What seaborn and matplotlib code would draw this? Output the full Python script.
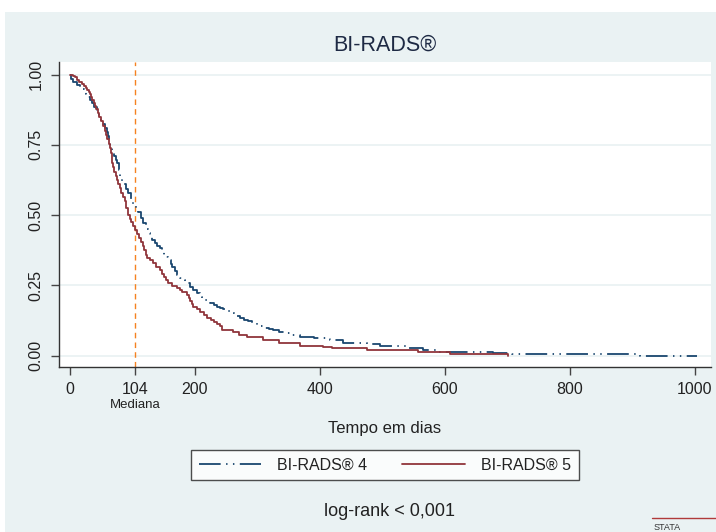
import numpy as np
import pandas as pd
import matplotlib
matplotlib.use("Agg")
import matplotlib.pyplot as plt
from matplotlib.patches import Rectangle
import seaborn as sns

# Kaplan-Meier step points (time in days, survival)
T_B4 = [0, 2, 5, 11, 16, 19, 22, 25, 28, 32, 35, 39, 43, 46, 50, 53, 56, 59, 61,
        63, 64, 67, 70, 73, 75, 78, 80, 83, 86, 90, 93, 97, 101, 105, 109, 113,
        117, 122, 125, 128, 132, 136, 140, 144, 147, 150, 154, 157, 161, 164, 168,
        171, 176, 180, 184, 187, 192, 197, 203, 208, 212, 216, 220, 224, 230, 235,
        240, 245, 250, 256, 262, 267, 272, 279, 285, 292, 299, 305, 312, 318, 325,
        335, 345, 356, 368, 390, 416, 437, 475, 496, 539, 565, 587, 613, 677, 707,
        912, 1003]
S_B4 = [1.00, 0.985, 0.975, 0.963, 0.957, 0.948, 0.94, 0.93, 0.92, 0.91, 0.90,
        0.885, 0.87, 0.855, 0.84, 0.825, 0.81, 0.795, 0.78, 0.76, 0.74, 0.725,
        0.71, 0.697, 0.685, 0.66, 0.637, 0.623, 0.61, 0.594, 0.578, 0.557, 0.536,
        0.524, 0.512, 0.49, 0.471, 0.45, 0.437, 0.423, 0.412, 0.40, 0.391, 0.382,
        0.371, 0.36, 0.35, 0.341, 0.328, 0.315, 0.30, 0.287, 0.278, 0.27, 0.264,
        0.258, 0.246, 0.235, 0.222, 0.21, 0.204, 0.198, 0.192, 0.186, 0.18, 0.175,
        0.17, 0.165, 0.158, 0.151, 0.146, 0.142, 0.133, 0.128, 0.122, 0.115,
        0.109, 0.105, 0.10, 0.095, 0.091, 0.086, 0.08, 0.074, 0.068, 0.062, 0.056,
        0.046, 0.042, 0.035, 0.026, 0.020, 0.014, 0.012, 0.0085, 0.005, 0.0, 0.0]

T_B5 = [0, 5, 8, 12, 15, 19, 22, 25, 28, 30, 32, 34, 36, 38, 40, 42, 45, 47, 50,
        53, 56, 58, 60, 62, 64, 65, 67, 68, 69, 71, 73, 75, 77, 80, 82, 85, 88, 90,
        93, 96, 98, 101, 104, 107, 110, 114, 117, 119, 121, 123, 128, 133, 138,
        144, 147, 150, 154, 157, 163, 171, 176, 180, 187, 190, 192, 195, 197, 203,
        208, 214, 219, 225, 230, 236, 240, 243, 261, 270, 283, 309, 334, 368, 405,
        419, 475, 557, 608, 701]
S_B5 = [1.00, 0.995, 0.99, 0.982, 0.975, 0.968, 0.96, 0.952, 0.945, 0.937, 0.93,
        0.92, 0.91, 0.90, 0.89, 0.878, 0.865, 0.85, 0.835, 0.818, 0.80, 0.785,
        0.77, 0.755, 0.74, 0.72, 0.70, 0.685, 0.67, 0.655, 0.64, 0.625, 0.61,
        0.595, 0.58, 0.565, 0.55, 0.525, 0.50, 0.487, 0.475, 0.46, 0.447, 0.433,
        0.42, 0.405, 0.39, 0.375, 0.36, 0.347, 0.34, 0.33, 0.315, 0.305, 0.292,
        0.28, 0.268, 0.258, 0.248, 0.24, 0.234, 0.228, 0.216, 0.205, 0.195, 0.184,
        0.174, 0.165, 0.157, 0.145, 0.133, 0.126, 0.12, 0.112, 0.105, 0.092,
        0.085, 0.075, 0.065, 0.056, 0.045, 0.035, 0.030, 0.026, 0.020, 0.012,
        0.006, 0.0]

GROUPS = ["BI-RADS® 4", "BI-RADS® 5"]
COLORS = {"BI-RADS® 4": "#1a476f", "BI-RADS® 5": "#90353b"}
MEDIAN = 104
X_TICKS = [0, 104, 200, 400, 600, 800, 1000]
Y_TICKS = [0.0, 0.25, 0.5, 0.75, 1.0]

df = pd.concat([
    pd.DataFrame({"t": T_B4, "s": S_B4, "grupo": GROUPS[0]}),
    pd.DataFrame({"t": T_B5, "s": S_B5, "grupo": GROUPS[1]}),
], ignore_index=True)

sns.set_style("white")
plt.rcParams["font.family"] = ["Liberation Sans", "DejaVu Sans"]

BG = "#eaf2f3"
W, H = 716, 532
fig = plt.figure(figsize=(W / 100, H / 100), dpi=100, facecolor="white")
fig.patches.append(Rectangle((5 / W, 0), 1 - 5 / W, 1 - 12 / H,
                             transform=fig.transFigure, facecolor=BG,
                             edgecolor="none", zorder=-10))
ax = fig.add_axes([58.7 / W, 1 - 367 / H, (711 - 58.7) / W, (367 - 62) / H])
ax.set_facecolor("white")

for y in Y_TICKS:
    ax.axhline(y, color=BG, lw=1.3, zorder=0)

sns.lineplot(data=df, x="t", y="s", hue="grupo", style="grupo",
             hue_order=GROUPS, style_order=GROUPS, palette=COLORS,
             dashes={GROUPS[0]: (12, 3, 0.8, 3, 0.8, 3), GROUPS[1]: ""},
             drawstyle="steps-post", estimator=None, lw=1.3, ax=ax, legend=False)
ax.axvline(MEDIAN, color="#f58220", lw=1.0, ls=(0, (4, 3)), zorder=1)

ax.set_xlim(-18, 1026)
ax.set_ylim(-0.040, 1.045)
ax.set_xticks(X_TICKS)
ax.set_xticklabels([str(v) for v in X_TICKS], fontsize=11.5, color="#222222")
ax.set_yticks(Y_TICKS)
ax.set_yticklabels([f"{v:.2f}" for v in Y_TICKS], fontsize=11.5, color="#222222",
                   rotation=90, va="center")
ax.tick_params(axis="both", direction="out", length=6, width=1, color="#444444", pad=5)
ax.tick_params(axis="x", bottom=True)
ax.tick_params(axis="y", left=True)
for side in ["top", "right"]:
    ax.spines[side].set_visible(False)
for side in ["left", "bottom"]:
    ax.spines[side].set_color("#333333")
    ax.spines[side].set_linewidth(1.0)
ax.set_xlabel("")
ax.set_ylabel("")

cx = (58.7 + 711) / 2 / W
fig.text(cx, 1 - 45 / H, "BI-RADS®", ha="center", va="center", fontsize=15.5,
         color="#1e2a44")
ax.text(MEDIAN, 1 - 405 / H, "Mediana", ha="center", va="center", fontsize=9.5,
        color="#222222", transform=ax.get_xaxis_transform().__class__(
            ax.transData, fig.transFigure))
fig.text(cx, 1 - 428 / H, "Tempo em dias", ha="center", va="center", fontsize=12,
         color="#222222")

handles = [h for h in ax.get_lines() if len(h.get_xdata()) > 2][:2]
leg = fig.legend(handles, GROUPS, loc="center", bbox_to_anchor=(cx, 1 - 465 / H),
                 ncol=2, fontsize=11.5, frameon=True, fancybox=False,
                 handlelength=3.9, handletextpad=1.0, columnspacing=2.2,
                 borderpad=0.5, borderaxespad=0)
leg.get_frame().set_edgecolor("#222222")
leg.get_frame().set_linewidth(1.0)
leg.get_frame().set_facecolor("white")
for t in leg.get_texts():
    t.set_color("#222222")

fig.text(cx + 5 / W, 1 - 512 / H, "log-rank < 0,001", ha="center", va="center",
         fontsize=13, color="#222222")

# Stata mark in the corner
fig.add_artist(plt.Line2D([652 / W, 1.0], [1 - 518 / H] * 2, color="#b03a3a",
                          lw=1.0, transform=fig.transFigure))
fig.text(654 / W, 1 - 527 / H, "STATA", ha="left", va="center", fontsize=6.5,
         color="#333333")

fig.savefig("out.png", dpi=100, facecolor=fig.get_facecolor())
